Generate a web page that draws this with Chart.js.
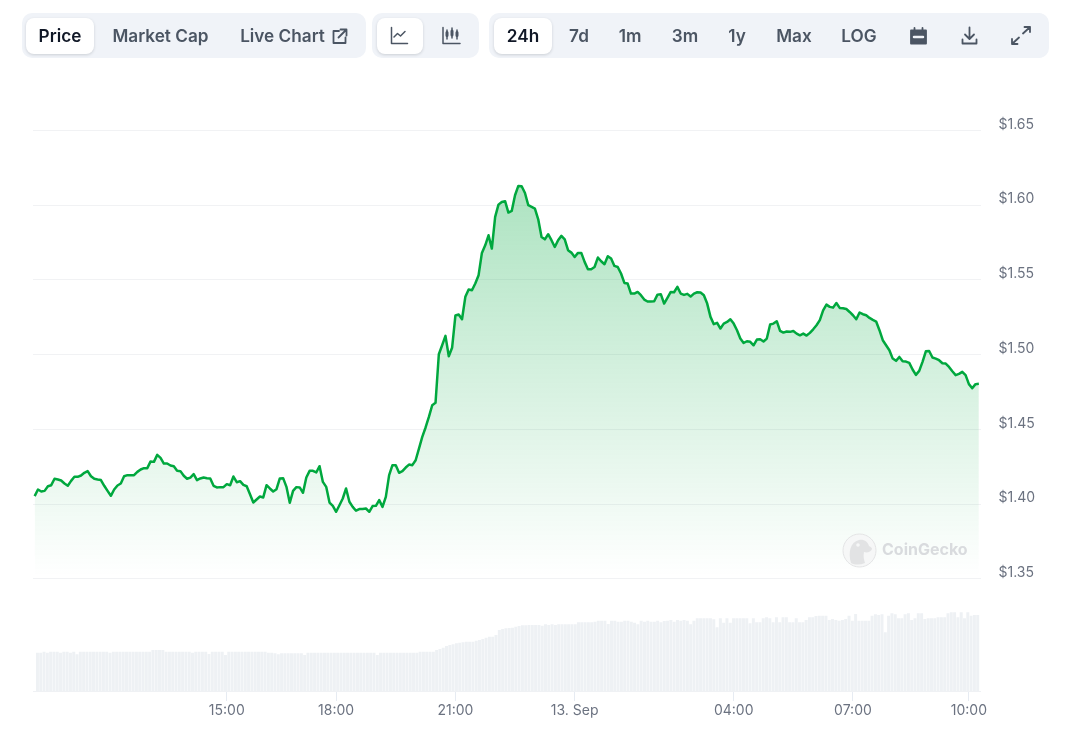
<!DOCTYPE html>
<html>
<head>
<meta charset="utf-8">
<title>Price chart</title>
<script src="https://cdn.jsdelivr.net/npm/chart.js@4/dist/chart.umd.js"></script>
<style>
  html, body { margin: 0; padding: 0; background: #fff; }
  body { width: 1075px; height: 736px; position: relative; overflow: hidden; font-family: Inter, sans-serif; }
  canvas { position: absolute; left: 0; top: 0; }
  .group { position: absolute; top: 13px; height: 45px; background: #f0f3f8; border-radius: 10px; }
  .active { position: absolute; top: 18px; height: 36px; background: #fff; border-radius: 8px; box-shadow: 0 1px 3px rgba(16,24,40,.16); }
  .btn { position: absolute; top: 24px; height: 24px; line-height: 24px; font-size: 17.2px; font-weight: 600; color: #4b5563; transform: translateX(-50%); white-space: nowrap; }
  .btn.on { color: #111827; }
  svg.icon { position: absolute; fill: none; stroke: #4b5563; stroke-width: 1.8; stroke-linecap: round; stroke-linejoin: round; }
  .mark { position: absolute; left: 882px; top: 539px; font-size: 16px; font-weight: 700; color: #d9dbde; line-height: 20px; }
</style>
</head>
<body>
<canvas id="priceChart" width="1075" height="736"></canvas>

<div class="group" style="left:22px;width:344px"></div>
<div class="group" style="left:372px;width:107px"></div>
<div class="group" style="left:489px;width:560px"></div>
<div class="active" style="left:26px;width:68px"></div>
<div class="active" style="left:377px;width:46px"></div>
<div class="active" style="left:494px;width:58px"></div>

<span class="btn on" style="left:60px">Price</span>
<span class="btn" style="left:160.5px">Market Cap</span>
<span class="btn" style="left:282.5px">Live Chart</span>
<span class="btn on" style="left:523px">24h</span>
<span class="btn" style="left:579px">7d</span>
<span class="btn" style="left:630px">1m</span>
<span class="btn" style="left:685px">3m</span>
<span class="btn" style="left:737px">1y</span>
<span class="btn" style="left:794px">Max</span>
<span class="btn" style="left:859px">LOG</span>

<svg class="icon" style="left:331px;top:28px" width="17" height="17" viewBox="0 0 17 17"><path d="M8 3H2.500v12h12V9.500M9.500 1.500h6v6M15 2L7.500 9.500"/></svg>
<svg class="icon" style="left:390px;top:26px;stroke-width:1.5" width="19" height="19" viewBox="0 0 19 19"><path d="M1.500 1.500v16h16M4 11l3.500-3.500 3 2.500 4.500-4.500"/></svg>
<svg class="icon" style="left:442px;top:26px;stroke-width:1.5" width="19" height="19" viewBox="0 0 19 19"><path d="M1 1.500v16h17M5 4v9M10 2v10M15 4v9"/><path stroke-width="3" d="M5 6.500v3M10 5v4M15 6.500v3"/></svg>
<svg class="icon" style="left:910px;top:27px" width="17" height="18" viewBox="0 0 17 18"><path fill="#4b5563" d="M1 3.500h15v13H1z"/><path d="M4.500 1v3M12.500 1v3"/><path stroke="#f0f3f8" stroke-width="2.500" d="M4 10h9"/></svg>
<svg class="icon" style="left:961px;top:26px" width="17" height="19" viewBox="0 0 17 19"><path d="M8.500 1.500v11M4 8.500l4.500 4.500 4.500-4.500M1.500 13.500v4h14v-4"/></svg>
<svg class="icon" style="left:1011px;top:26px" width="20" height="19" viewBox="0 0 20 19"><path d="M12 7.500l7-6.500M13.500 1H19v5M8 11.500l-7 6.500M6.500 18H1v-5"/></svg>

<svg style="position:absolute;left:842px;top:533px" width="35" height="35" viewBox="0 0 35 35">
  <circle cx="17.500" cy="17.500" r="16.500" fill="#f6f7f7" stroke="#e3e4e5"/>
  <path d="M9 30C6 20 8 9 17 7c5-1 9 2 10 6 2 1 3 2 3 3-1 3-5 4-8 3-1 4 0 8 1 11-5 2-10 2-14 0z" fill="#e2e3e4"/>
  <circle cx="16" cy="12" r="1.800" fill="#f6f7f7"/>
</svg>
<span class="mark">CoinGecko</span>

<script>
const prices = [
  1.4054, 1.4098, 1.4085, 1.4089, 1.4120, 1.4127, 1.4170, 1.4165, 1.4158, 1.4138,
  1.4123, 1.4156, 1.4183, 1.4183, 1.4192, 1.4210, 1.4221, 1.4187, 1.4170, 1.4165,
  1.4161, 1.4123, 1.4089, 1.4056, 1.4098, 1.4125, 1.4138, 1.4187, 1.4194, 1.4194,
  1.4194, 1.4216, 1.4232, 1.4241, 1.4241, 1.4286, 1.4283, 1.4330, 1.4310, 1.4272,
  1.4272, 1.4259, 1.4254, 1.4223, 1.4221, 1.4190, 1.4170, 1.4178, 1.4201, 1.4161,
  1.4172, 1.4178, 1.4174, 1.4172, 1.4123, 1.4112, 1.4114, 1.4114, 1.4134, 1.4127,
  1.4185, 1.4147, 1.4154, 1.4129, 1.4120, 1.4067, 1.4011, 1.4031, 1.4051, 1.4045,
  1.4127, 1.4105, 1.4085, 1.4100, 1.4172, 1.4174, 1.4116, 1.4009, 1.4089, 1.4114,
  1.4112, 1.4076, 1.4178, 1.4223, 1.4223, 1.4212, 1.4254, 1.4149, 1.4116, 1.4011,
  1.3989, 1.3949, 1.3993, 1.4038, 1.4105, 1.4016, 1.3982, 1.3956, 1.3967, 1.3967,
  1.3971, 1.3949, 1.3987, 1.3989, 1.4027, 1.3982, 1.4049, 1.4194, 1.4261, 1.4261,
  1.4210, 1.4221, 1.4245, 1.4265, 1.4261, 1.4294, 1.4372,
  1.4450, 1.4513, 1.4584, 1.4662, 1.4678, 1.5003, 1.5063, 1.5126, 1.4990, 1.5046,
  1.5262, 1.5269, 1.5237, 1.5387, 1.5436, 1.5431, 1.5476, 1.5532, 1.5681, 1.5732,
  1.5799, 1.5710, 1.5922, 1.6004, 1.6022, 1.6027, 1.5951, 1.5962, 1.6067, 1.6129,
  1.6127, 1.6082, 1.6000, 1.5989, 1.5978, 1.5906, 1.5788, 1.5772, 1.5806, 1.5766,
  1.5721, 1.5766, 1.5795, 1.5772, 1.5699, 1.5683, 1.5654, 1.5681, 1.5681, 1.5621,
  1.5572, 1.5572, 1.5587, 1.5650, 1.5625, 1.5605, 1.5659, 1.5643, 1.5594, 1.5587,
  1.5543, 1.5480, 1.5476, 1.5409, 1.5409, 1.5420, 1.5398, 1.5369, 1.5356, 1.5356,
  1.5358, 1.5402, 1.5405, 1.5342, 1.5380, 1.5420, 1.5418, 1.5454, 1.5409, 1.5400,
  1.5407, 1.5389, 1.5409, 1.5418,
  1.5416, 1.5398, 1.5342, 1.5253, 1.5204, 1.5213, 1.5175, 1.5208, 1.5219, 1.5237,
  1.5208, 1.5164, 1.5108, 1.5079, 1.5090, 1.5086, 1.5063, 1.5101, 1.5103, 1.5088,
  1.5108, 1.5202, 1.5208, 1.5224, 1.5159, 1.5148, 1.5155, 1.5153, 1.5159, 1.5141,
  1.5130, 1.5141, 1.5128, 1.5146, 1.5170, 1.5197, 1.5231, 1.5297, 1.5335, 1.5320,
  1.5315, 1.5346, 1.5313, 1.5311, 1.5306, 1.5286, 1.5264, 1.5237, 1.5282, 1.5271,
  1.5264, 1.5246, 1.5233, 1.5222, 1.5164, 1.5097, 1.5063, 1.5030, 1.4974, 1.4959,
  1.4985, 1.4956, 1.4954, 1.4945, 1.4901, 1.4865, 1.4892, 1.4952, 1.5023, 1.5025,
  1.4981, 1.4974, 1.4963, 1.4943, 1.4941, 1.4918, 1.4889, 1.4863, 1.4872, 1.4885,
  1.4863, 1.4803, 1.4776, 1.4803, 1.4805
];

// volume in millions
const volumes = [
  3.80, 3.80, 3.90, 3.80, 3.90, 3.90, 3.90, 3.80, 3.90, 3.90,
  3.80, 3.90, 3.63, 3.90, 3.90, 3.90, 3.90, 3.90, 3.90, 3.90,
  3.90, 3.90, 3.80, 3.90, 3.90, 3.90, 3.90, 3.90, 3.90, 3.90,
  3.90, 3.90, 3.90, 3.90, 3.90, 4.07, 4.07, 4.07, 4.07, 3.90,
  3.90, 3.90, 3.90, 3.90, 3.90, 3.90, 3.90, 3.80, 3.90, 3.90,
  3.90, 3.90, 3.67, 3.90, 3.90, 3.90, 3.90, 3.57, 3.90, 3.90,
  3.90, 3.90, 3.90, 3.90, 3.90, 3.90, 3.90, 3.90, 3.90, 3.90,
  3.80, 3.80, 3.73, 3.63, 3.73, 3.73, 3.73, 3.73, 3.73, 3.73,
  3.73, 3.57, 3.80, 3.80, 3.80, 3.80, 3.80, 3.80, 3.80, 3.80,
  3.80, 3.80, 3.80, 3.80, 3.80, 3.80, 3.80, 3.80, 3.80, 3.80,
  3.80, 3.80, 3.80, 3.57, 3.80, 3.80, 3.80, 3.80, 3.80, 3.80,
  3.80, 3.80, 3.80, 3.80, 3.80, 3.80, 3.90, 3.90, 3.90, 3.90,
  3.90, 4.07, 4.17, 4.30, 4.47, 4.57, 4.63, 4.73, 4.80, 4.83,
  4.90, 4.90, 4.90, 5.00, 5.07, 5.17, 5.30, 5.40, 5.40, 5.57,
  6.07, 6.17, 6.23, 6.27, 6.30, 6.40, 6.47, 6.53, 6.53, 6.57,
  6.57, 6.57, 6.57, 6.50, 6.63, 6.57, 6.63, 6.57, 6.63, 6.63,
  6.63, 6.63, 6.63, 6.63, 6.83, 6.83, 6.83, 6.83, 6.83, 6.90,
  7.00, 7.00, 7.00, 6.67, 7.00, 7.00, 6.90, 6.90, 7.00, 7.00,
  6.90, 6.80, 6.63, 7.00, 6.90, 7.00, 6.90, 6.90, 7.00, 6.83,
  6.97, 7.00, 7.07, 6.90, 7.07, 7.00, 7.07, 7.00, 6.63, 7.00,
  7.23, 7.23, 7.23, 7.23, 7.23, 7.13, 6.33, 7.23, 6.80, 7.23,
  6.80, 7.23, 7.23, 7.23, 7.23, 7.23, 6.73, 7.23, 6.83, 6.83,
  7.23, 7.33, 7.23, 6.83, 7.33, 6.83, 7.33, 7.33, 6.83, 6.83,
  7.23, 6.83, 6.83, 7.07, 7.33, 7.33, 7.47, 7.50, 7.50, 7.50,
  7.07, 7.17, 7.07, 7.00, 7.07, 7.17, 7.50, 7.00, 7.67, 7.00,
  7.00, 7.00, 7.00, 7.50, 7.63, 7.57, 7.63, 5.83, 7.50, 7.73,
  7.63, 7.23, 7.23, 7.63, 7.73, 7.07, 7.23, 7.73, 7.73, 7.17,
  7.23, 7.23, 7.23, 7.33, 7.33, 7.33, 7.73, 7.83, 7.83, 7.33,
  7.83, 7.23, 7.83, 7.50, 7.57, 7.57
];

const priceTicks = [1.35, 1.40, 1.45, 1.50, 1.55, 1.60, 1.65];
const tickPositions = [58, 91, 127, 163, 211, 247, 282];
const tickLabels = ['15:00', '18:00', '21:00', '13. Sep', '04:00', '07:00', '10:00'];
const categories = prices.map((p, i) => {
  const t = tickPositions.indexOf(i);
  return t >= 0 ? tickLabels[t] : String(i);
});

const green = '#00a83e';
const axisText = '#6b7280';

new Chart(document.getElementById('priceChart').getContext('2d'), {
  type: 'bar',
  data: {
    labels: categories,
    datasets: [
      {
        type: 'line',
        data: prices,
        yAxisID: 'y',
        order: 1,
        borderColor: green,
        borderWidth: 2.5,
        borderJoinStyle: 'round',
        pointRadius: 0,
        tension: 0,
        fill: { value: 1.35 },
        backgroundColor: ctx => {
          const { chart } = ctx;
          if (!chart.chartArea) return 'transparent';
          const y = chart.scales.y;
          const g = chart.ctx.createLinearGradient(0, y.getPixelForValue(Math.max(...prices)), 0, y.getPixelForValue(1.352));
          g.addColorStop(0, 'rgba(0,168,62,0.32)');
          g.addColorStop(1, 'rgba(0,168,62,0)');
          return g;
        }
      },
      {
        type: 'bar',
        data: volumes.map((v, i) => ({ x: i, y: v })),
        xAxisID: 'xVolume',
        yAxisID: 'yVolume',
        order: 2,
        backgroundColor: '#eef1f4',
        barThickness: 2.3
      }
    ]
  },
  options: {
    responsive: false,
    animation: false,
    layout: { padding: { top: 130.5, left: 33, right: 0, bottom: 0 } },
    plugins: { legend: { display: false }, tooltip: { enabled: false } },
    scales: {
      x: {
        offset: true,
        afterBuildTicks: scale => { scale.ticks = tickPositions.map(v => ({ value: v })); },
        afterFit: scale => { scale.height = 45; },
        ticks: { autoSkip: false, maxRotation: 0, padding: 1, color: axisText, font: { family: 'Inter', size: 14 } },
        grid: { offset: false, drawOnChartArea: false, tickLength: 10, tickColor: '#e6ebf2' },
        border: { color: '#eff1f4' }
      },
      // volume bars sit slightly inside the price line's span
      xVolume: {
        type: 'linear',
        display: false,
        offset: false,
        min: -1,
        max: 286.2
      },
      y: {
        position: 'right',
        min: 1.275,
        max: 1.65,
        afterBuildTicks: scale => { scale.ticks = priceTicks.map(v => ({ value: v })); },
        afterFit: scale => { scale.width = 94.5; },
        // the empty second line lifts each label above its grid line
        ticks: {
          padding: 18,
          color: axisText,
          font: { family: 'Inter', size: 14, lineHeight: 12 / 14 },
          callback: v => ['$' + v.toFixed(2), '']
        },
        grid: { color: '#f1f2f4', drawTicks: false },
        border: { display: false }
      },
      yVolume: {
        display: false,
        position: 'left',
        min: 0,
        max: 56.05
      }
    }
  }
});
</script>
</body>
</html>
